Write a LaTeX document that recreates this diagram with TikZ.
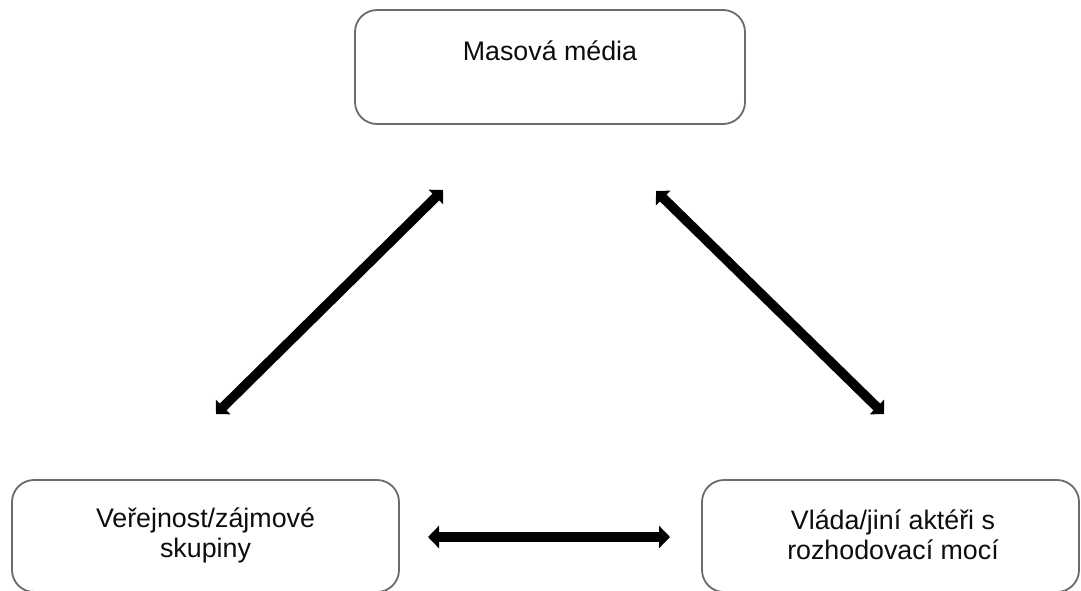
\documentclass[tikz,border=0pt]{standalone}
\usepackage{fontspec}
\setmainfont{Liberation Sans}
\usetikzlibrary{arrows.meta}
\begin{document}
\begin{tikzpicture}[x=1pt,y=-1pt,
  box/.style={draw=black!58,line width=1.8pt,rounded corners=22pt,inner sep=0pt},
  lbl/.style={font=\fontsize{26.8}{30}\selectfont,align=center,text=black!95,inner sep=0pt},
  dbl/.style={line width=9.5pt,{Triangle[length=10pt,width=20pt]}-{Triangle[length=10pt,width=20pt]}},
  dblh/.style={line width=10.5pt,{Triangle[length=11pt,width=22pt]}-{Triangle[length=11pt,width=22pt]}}]
\useasboundingbox (0,0) rectangle (1081,590);
\clip (0,0) rectangle (1081,590);
\fill[white] (0,0) rectangle (1081,590);
% boxes
\node[box,minimum width=390pt,minimum height=114pt] (media) at (550,67) {};
\node[box,minimum width=387pt,minimum height=112pt] (public) at (205.5,536) {};
\node[box,minimum width=377pt,minimum height=112pt] (gov) at (890.5,536) {};
% texts
\node[lbl] (mediatxt) at (550,51) {Masová média};
\node[lbl] (publictxt) at (205.5,535) {Veřejnost/zájmové\\skupiny};
\node[lbl] (govtxt) at (893,535) {Vláda/jiní aktéři s\\rozhodovací mocí};
% arrow end points
\coordinate (mL) at (443,190);
\coordinate (pT) at (216,414);
\coordinate (mR) at (656,191);
\coordinate (gT) at (884,414);
\coordinate (pR) at (428,537);
\coordinate (gL) at (670,537);
\draw[dbl] (pT) -- (mL);
\draw[dbl] (mR) -- (gT);
\draw[dblh] (pR) -- (gL);
\end{tikzpicture}
\end{document}
